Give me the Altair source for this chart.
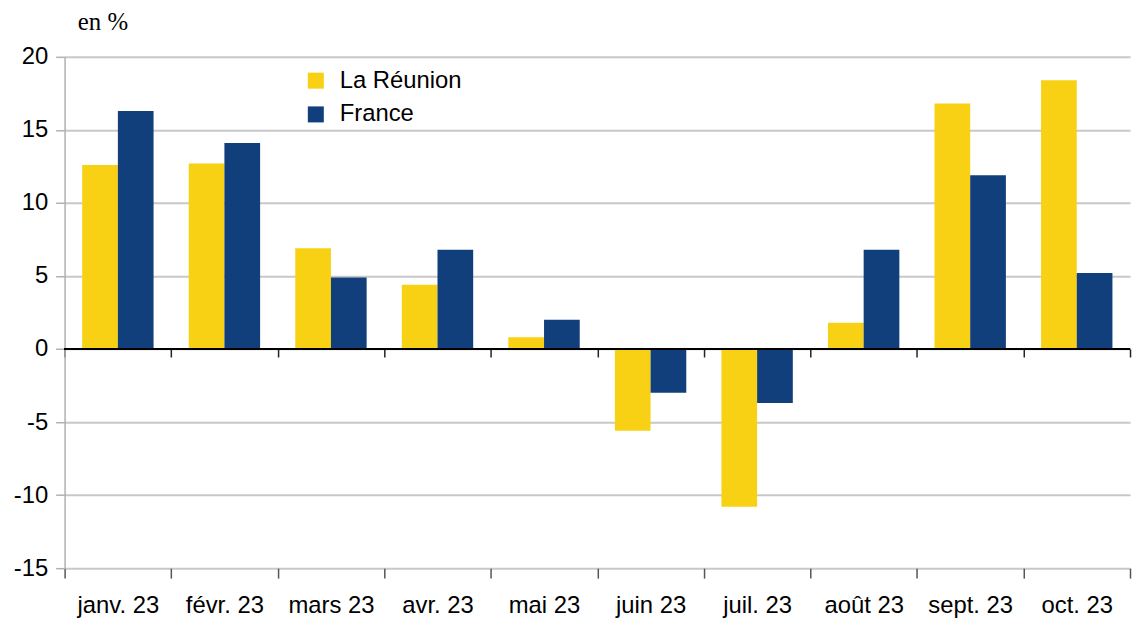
import altair as alt
import pandas as pd

months = ["janv. 23", "févr. 23", "mars 23", "avr. 23", "mai 23",
          "juin 23", "juil. 23", "août 23", "sept. 23", "oct. 23"]
reunion = [12.6, 12.7, 6.9, 4.4, 0.8, -5.6, -10.8, 1.8, 16.8, 18.4]
france = [16.3, 14.1, 4.9, 6.8, 2.0, -3.0, -3.7, 6.8, 11.9, 5.2]
series = ["La Réunion", "France"]
colors = ["#F8D114", "#113F7B"]

rows = []
for i, m in enumerate(months):
    rows.append({"mois": m, "serie": series[0], "valeur": reunion[i]})
    rows.append({"mois": m, "serie": series[1], "valeur": france[i]})
df = pd.DataFrame(rows)

FONT = "Liberation Sans"
FS = 24

xscale = alt.Scale(paddingInner=0, paddingOuter=0)
offscale = alt.Scale(paddingInner=0, paddingOuter=0.4925)
yscale = alt.Scale(domain=[-15, 20], nice=False, zero=False)
yaxis = alt.Axis(values=[-15, -10, -5, 0, 5, 10, 15, 20], labelFont=FONT,
                 labelExpr="toString(datum.value)",
                 labelFontSize=FS, labelColor="#000000", labelPadding=8,
                 tickSize=9, tickColor="#b0b0b0", tickWidth=1.5,
                 domainColor="#b0b0b0", domainWidth=1.5,
                 gridColor="#c8c8c8", gridWidth=2)

bars = alt.Chart(df).mark_bar().encode(
    x=alt.X("mois:N", sort=months, scale=xscale, title=None,
            axis=alt.Axis(orient="bottom", tickBand="extent", labelAngle=0, labelFont=FONT,
                          labelFontSize=FS, labelColor="#000000", labelPadding=16,
                          tickSize=10, tickColor="#555555", tickWidth=1.5,
                          domain=False, grid=False)),
    xOffset=alt.XOffset("serie:N", sort=series, scale=offscale),
    y=alt.Y("valeur:Q", scale=yscale, title=None, axis=yaxis),
    color=alt.Color("serie:N", sort=series,
                    scale=alt.Scale(domain=series, range=colors),
                    legend=alt.Legend(title=None, orient="none", legendX=241, legendY=12,
                                      symbolType="square", symbolSize=260,
                                      symbolStrokeWidth=0,
                                      labelFont=FONT, labelFontSize=FS,
                                      labelColor="#000000", rowPadding=10,
                                      labelOffset=12)),
)

zero = alt.Chart(df).mark_rule(color="#000000", strokeWidth=2).encode(
    y=alt.datum(0)
)

zero_ticks = alt.Chart(df).mark_bar(opacity=0).encode(
    x=alt.X("mois:N", sort=months, scale=xscale, title=None,
            axis=alt.Axis(orient="bottom", tickBand="extent", labels=False,
                          offset=-220.7,
                          tickSize=8, tickColor="#222222", tickWidth=1.5,
                          domain=False, grid=False)),
    xOffset=alt.XOffset("serie:N", sort=series, scale=offscale),
    y=alt.Y("valeur:Q", scale=yscale, title=None, axis=yaxis),
)

chart = alt.layer(bars, zero, zero_ticks).resolve_axis(x="independent").properties(
    width=1073, height=515,
    autosize=alt.AutoSizeParams(type="none"),
    padding={"left": 57, "top": 47, "right": 2, "bottom": 48},
    title=alt.TitleParams("en %", font="Liberation Serif", fontSize=25,
                          fontWeight="normal", color="#000000", anchor="start",
                          dx=65, offset=10),
).configure_view(stroke=None)

chart.save("out.html", embed_options={"renderer": "svg", "actions": False})
